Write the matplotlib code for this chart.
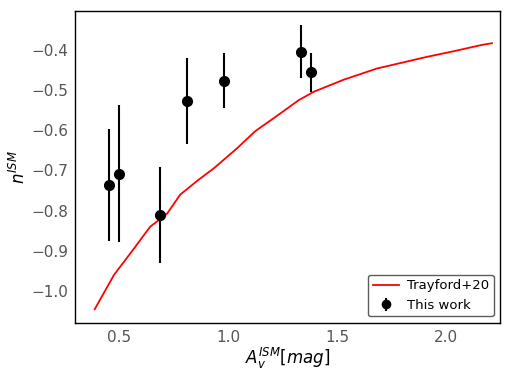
import matplotlib
matplotlib.use("Agg")
import matplotlib.pyplot as plt
import numpy as np

# Trayford+20 curve
model_x = [0.387, 0.476, 0.56, 0.642, 0.688, 0.72, 0.78, 0.862, 0.933, 1.04, 1.124,
           1.208, 1.323, 1.392, 1.529, 1.682, 1.911, 2.034, 2.165, 2.21]
model_y = [-1.046, -0.96, -0.90, -0.84, -0.821, -0.807, -0.76, -0.724, -0.695, -0.645,
           -0.602, -0.57, -0.525, -0.504, -0.474, -0.446, -0.417, -0.403, -0.387, -0.383]

# This work
obs_x = [0.454, 0.50, 0.688, 0.812, 0.98, 1.335, 1.38]
obs_y = [-0.736, -0.709, -0.811, -0.527, -0.478, -0.405, -0.455]
obs_err_lo = [0.140, 0.169, 0.119, 0.107, 0.067, 0.065, 0.050]
obs_err_hi = [0.139, 0.172, 0.119, 0.107, 0.070, 0.067, 0.047]

fig, ax = plt.subplots(figsize=(5.12, 3.84), dpi=100)
fig.subplots_adjust(left=0.147, right=0.977, top=0.971, bottom=0.159)

ax.plot(model_x, model_y, color='red', lw=1.3, label='Trayford+20')
ax.errorbar(obs_x, obs_y, yerr=[obs_err_lo, obs_err_hi], fmt='o', color='black',
            ms=7, elinewidth=1.5, capsize=0, label='This work')

ax.set_xlim(0.298, 2.248)
ax.set_ylim(-1.08, -0.303)
ax.set_xticks([0.5, 1.0, 1.5, 2.0])
ax.set_yticks([-0.4, -0.5, -0.6, -0.7, -0.8, -0.9, -1.0])
ax.tick_params(length=0, labelsize=11, labelcolor='#555555', pad=5)
for s in ax.spines.values():
    s.set_color('black')
    s.set_linewidth(1.0)

ax.set_xlabel(r'$A_v^{ISM}[mag]$', fontsize=12, labelpad=1)
ax.set_ylabel(r'$n^{ISM}$', fontsize=12)
ax.yaxis.set_label_coords(-0.108, 0.5)

leg = ax.legend(loc='lower right', fontsize=9.5, frameon=True, fancybox=True,
                edgecolor='#333333', markerscale=0.85, borderpad=0.35,
                handletextpad=0.6)
leg.get_frame().set_linewidth(1.0)

fig.savefig('out.png', dpi=100)
